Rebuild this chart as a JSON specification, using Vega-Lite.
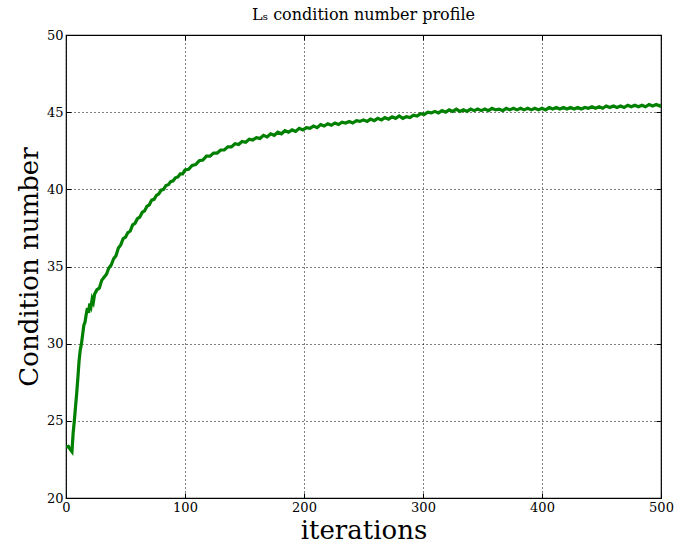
{
  "$schema": "https://vega.github.io/schema/vega-lite/v6.json",
  "width": 595,
  "height": 463,
  "autosize": "none",
  "padding": {"left": 66, "top": 35, "right": 29, "bottom": 47},
  "background": "white",
  "title": {"text": "Lₛ condition number profile", "font": "DejaVu Serif", "fontSize": 16, "fontWeight": "normal", "color": "black", "offset": 6},
  "config": {
    "view": {"stroke": "black", "strokeWidth": 1.2},
    "axis": {
      "labelFont": "DejaVu Serif",
      "labelFontSize": 13,
      "labelColor": "black",
      "titleFont": "DejaVu Serif",
      "titleFontWeight": "normal",
      "titleColor": "black",
      "domain": false,
      "tickColor": "black",
      "tickSize": -5,
      "tickWidth": 1,
      "gridColor": "black",
      "gridOpacity": 1,
      "gridDash": [1, 3],
      "gridWidth": 1
    }
  },
  "data": {"values": [
    {"it":0,"cn":23.3},{"it":2,"cn":23.35},{"it":4,"cn":23.1},{"it":5,"cn":23.0},{"it":6,"cn":24.2},{"it":7,"cn":25.0},{"it":8,"cn":25.9},{"it":9,"cn":26.8},{"it":10,"cn":27.8},{"it":11,"cn":28.9},{"it":12,"cn":29.6},{"it":13,"cn":30.0},{"it":14,"cn":30.6},{"it":15,"cn":31.2},{"it":16,"cn":31.4},{"it":17,"cn":31.9},{"it":18,"cn":32.3},{"it":19,"cn":32.0},{"it":20,"cn":32.6},{"it":21,"cn":32.4},{"it":22,"cn":32.9},{"it":23,"cn":32.7},{"it":24,"cn":33.2},{"it":26,"cn":33.5},{"it":28,"cn":33.6},{"it":30,"cn":34.1},{"it":32,"cn":34.3},{"it":34,"cn":34.5},{"it":36,"cn":34.9},{"it":38,"cn":35.1},{"it":40,"cn":35.5},{"it":42,"cn":35.7},{"it":44,"cn":36.2},{"it":46,"cn":36.4},{"it":48,"cn":36.8},{"it":50,"cn":36.9},{"it":52,"cn":37.2},{"it":54,"cn":37.3},{"it":56,"cn":37.7},{"it":58,"cn":37.8},{"it":60,"cn":38.1},{"it":62,"cn":38.2},{"it":64,"cn":38.5},{"it":66,"cn":38.6},{"it":68,"cn":38.9},{"it":70,"cn":39.0},{"it":72,"cn":39.3},{"it":74,"cn":39.35},{"it":76,"cn":39.6},{"it":78,"cn":39.7},{"it":80,"cn":39.95},{"it":82,"cn":40.0},{"it":84,"cn":40.25},{"it":86,"cn":40.3},{"it":88,"cn":40.5},{"it":90,"cn":40.55},{"it":92,"cn":40.75},{"it":94,"cn":40.8},{"it":96,"cn":41.0},{"it":98,"cn":41.0},{"it":100,"cn":41.25},{"it":103,"cn":41.3},{"it":106,"cn":41.55},{"it":109,"cn":41.6},{"it":112,"cn":41.85},{"it":115,"cn":41.9},{"it":118,"cn":42.15},{"it":121,"cn":42.15},{"it":124,"cn":42.35},{"it":127,"cn":42.35},{"it":130,"cn":42.55},{"it":133,"cn":42.55},{"it":136,"cn":42.75},{"it":139,"cn":42.75},{"it":142,"cn":42.95},{"it":145,"cn":42.9},{"it":148,"cn":43.1},{"it":151,"cn":43.05},{"it":154,"cn":43.25},{"it":157,"cn":43.2},{"it":160,"cn":43.35},{"it":163,"cn":43.3},{"it":166,"cn":43.5},{"it":169,"cn":43.4},{"it":172,"cn":43.6},{"it":175,"cn":43.5},{"it":178,"cn":43.7},{"it":181,"cn":43.6},{"it":184,"cn":43.8},{"it":187,"cn":43.7},{"it":190,"cn":43.85},{"it":193,"cn":43.75},{"it":196,"cn":43.95},{"it":199,"cn":43.85},{"it":202,"cn":44.0},{"it":205,"cn":43.95},{"it":208,"cn":44.1},{"it":211,"cn":44.0},{"it":214,"cn":44.2},{"it":217,"cn":44.1},{"it":220,"cn":44.25},{"it":223,"cn":44.15},{"it":226,"cn":44.3},{"it":229,"cn":44.2},{"it":232,"cn":44.35},{"it":235,"cn":44.3},{"it":238,"cn":44.4},{"it":241,"cn":44.3},{"it":244,"cn":44.45},{"it":247,"cn":44.4},{"it":250,"cn":44.5},{"it":253,"cn":44.4},{"it":256,"cn":44.55},{"it":259,"cn":44.45},{"it":262,"cn":44.6},{"it":265,"cn":44.5},{"it":268,"cn":44.65},{"it":271,"cn":44.55},{"it":274,"cn":44.7},{"it":277,"cn":44.6},{"it":280,"cn":44.75},{"it":283,"cn":44.6},{"it":286,"cn":44.7},{"it":289,"cn":44.65},{"it":292,"cn":44.8},{"it":295,"cn":44.75},{"it":298,"cn":44.9},{"it":301,"cn":44.85},{"it":304,"cn":45.0},{"it":307,"cn":44.95},{"it":310,"cn":45.05},{"it":313,"cn":44.95},{"it":316,"cn":45.1},{"it":319,"cn":45.0},{"it":322,"cn":45.15},{"it":325,"cn":45.05},{"it":328,"cn":45.2},{"it":331,"cn":45.05},{"it":334,"cn":45.15},{"it":337,"cn":45.05},{"it":340,"cn":45.2},{"it":343,"cn":45.1},{"it":346,"cn":45.2},{"it":349,"cn":45.1},{"it":352,"cn":45.2},{"it":355,"cn":45.1},{"it":358,"cn":45.25},{"it":361,"cn":45.15},{"it":364,"cn":45.2},{"it":367,"cn":45.1},{"it":370,"cn":45.25},{"it":373,"cn":45.15},{"it":376,"cn":45.25},{"it":379,"cn":45.15},{"it":382,"cn":45.25},{"it":385,"cn":45.15},{"it":388,"cn":45.25},{"it":391,"cn":45.15},{"it":394,"cn":45.25},{"it":397,"cn":45.15},{"it":400,"cn":45.25},{"it":403,"cn":45.15},{"it":406,"cn":45.3},{"it":409,"cn":45.2},{"it":412,"cn":45.3},{"it":415,"cn":45.2},{"it":418,"cn":45.3},{"it":421,"cn":45.2},{"it":424,"cn":45.3},{"it":427,"cn":45.2},{"it":430,"cn":45.3},{"it":433,"cn":45.2},{"it":436,"cn":45.3},{"it":439,"cn":45.25},{"it":442,"cn":45.35},{"it":445,"cn":45.25},{"it":448,"cn":45.35},{"it":451,"cn":45.25},{"it":454,"cn":45.4},{"it":457,"cn":45.3},{"it":460,"cn":45.4},{"it":463,"cn":45.3},{"it":466,"cn":45.4},{"it":469,"cn":45.3},{"it":472,"cn":45.45},{"it":475,"cn":45.35},{"it":478,"cn":45.45},{"it":481,"cn":45.35},{"it":484,"cn":45.45},{"it":487,"cn":45.35},{"it":490,"cn":45.5},{"it":493,"cn":45.4},{"it":496,"cn":45.5},{"it":499,"cn":45.4},{"it":500,"cn":45.5}
  ]},
  "resolve": {"axis": {"x": "independent", "y": "independent"}},
  "layer": [
    {
      "mark": {"type": "line", "color": "#008000", "strokeWidth": 3.2, "clip": true},
      "encoding": {
        "x": {"field": "it", "type": "quantitative", "scale": {"domain": [0, 500], "nice": false},
          "axis": {"title": "iterations", "titleFontSize": 26, "titlePadding": 3, "values": [0,100,200,300,400,500], "labelPadding": 8, "labelFlush": false}},
        "y": {"field": "cn", "type": "quantitative", "scale": {"domain": [20, 50], "nice": false, "zero": false},
          "axis": {"title": "Condition number", "titleFontSize": 26, "titlePadding": 4, "values": [20,25,30,35,40,45,50], "labelPadding": 8, "labelFlush": false}}
      }
    },
    {
      "mark": {"type": "line", "opacity": 0},
      "encoding": {
        "x": {"field": "it", "type": "quantitative", "axis": {"orient": "top", "title": null, "labels": false, "grid": false, "values": [0,100,200,300,400,500]}},
        "y": {"field": "cn", "type": "quantitative", "axis": {"orient": "right", "title": null, "labels": false, "grid": false, "values": [20,25,30,35,40,45,50]}}
      }
    }
  ]
}
